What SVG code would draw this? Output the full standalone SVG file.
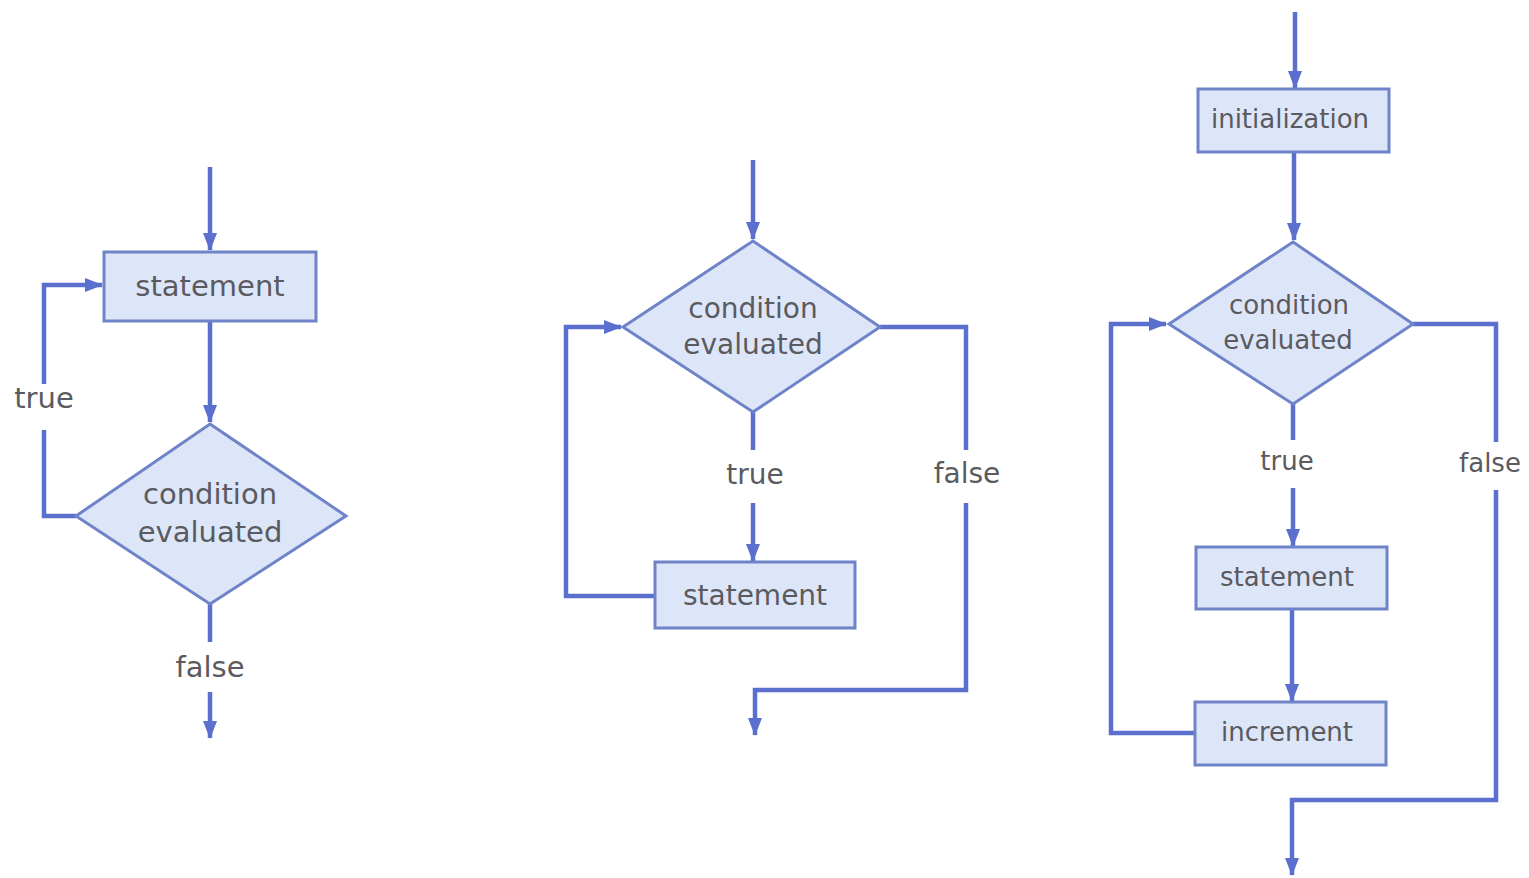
<svg xmlns="http://www.w3.org/2000/svg" width="1529" height="878" viewBox="0 0 1529 878">
<style>
.box{fill:#dde6f8;stroke:#6f84c8;stroke-width:3}
.ln{fill:none;stroke:#5b6fcf;stroke-width:4.5}
.t{font-family:"DejaVu Sans",sans-serif;fill:#5a5a60;text-anchor:middle}
.s1{font-size:29px}.s2{font-size:28px}.s3{font-size:26px}
</style>
<defs>
<marker id="ah" markerUnits="userSpaceOnUse" markerWidth="18" markerHeight="14" viewBox="0 0 18 14" refX="17" refY="7" orient="auto">
<path d="M0,0 L18,7 L0,14 Z" fill="#5b6fcf"/>
</marker>
</defs>
<rect width="1529" height="878" fill="#ffffff"/>
<g id="connectors">
<line class="ln" x1="210" y1="167" x2="210" y2="250" marker-end="url(#ah)"/>
<line class="ln" x1="210" y1="321" x2="210" y2="422" marker-end="url(#ah)"/>
<polyline class="ln" points="76,516 44,516 44,430"/>
<polyline class="ln" points="44,384 44,285 102,285" marker-end="url(#ah)"/>
<line class="ln" x1="210" y1="604" x2="210" y2="642"/>
<line class="ln" x1="210" y1="692" x2="210" y2="738" marker-end="url(#ah)"/>

<line class="ln" x1="753" y1="160" x2="753" y2="239" marker-end="url(#ah)"/>
<line class="ln" x1="753" y1="412" x2="753" y2="450"/>
<line class="ln" x1="753" y1="503" x2="753" y2="561" marker-end="url(#ah)"/>
<polyline class="ln" points="655,596 566,596 566,327 621,327" marker-end="url(#ah)"/>
<polyline class="ln" points="880,327 966,327 966,450"/>
<polyline class="ln" points="966,503 966,690 755,690 755,735" marker-end="url(#ah)"/>

<line class="ln" x1="1295" y1="12" x2="1295" y2="88" marker-end="url(#ah)"/>
<line class="ln" x1="1294" y1="152" x2="1294" y2="240" marker-end="url(#ah)"/>
<line class="ln" x1="1293" y1="404" x2="1293" y2="440"/>
<line class="ln" x1="1293" y1="488" x2="1293" y2="546" marker-end="url(#ah)"/>
<line class="ln" x1="1292" y1="609" x2="1292" y2="701" marker-end="url(#ah)"/>
<polyline class="ln" points="1195,733 1111,733 1111,324 1166,324" marker-end="url(#ah)"/>
<polyline class="ln" points="1413,324 1496,324 1496,442"/>
<polyline class="ln" points="1496,490 1496,800 1292,800 1292,875" marker-end="url(#ah)"/>
</g>

<g id="d1-statement">
<rect class="box" x="104" y="252" width="212" height="69"/>
<text class="t s1" x="210" y="296">statement</text>
</g>
<g id="d1-condition">
<polygon class="box" points="210,424 346,516 210,604 76,516"/>
<text class="t s1" x="210" y="504">condition</text>
<text class="t s1" x="210" y="542">evaluated</text>
</g>
<g id="d1-labels">
<text class="t s1" x="44" y="408">true</text>
<text class="t s1" x="210" y="677">false</text>
</g>

<g id="d2-condition">
<polygon class="box" points="753,241 880,327 753,412 623,327"/>
<text class="t s2" x="753" y="318">condition</text>
<text class="t s2" x="753" y="354">evaluated</text>
</g>
<g id="d2-statement">
<rect class="box" x="655" y="562" width="200" height="66"/>
<text class="t s2" x="755" y="605">statement</text>
</g>
<g id="d2-labels">
<text class="t s2" x="755" y="484">true</text>
<text class="t s2" x="967" y="483">false</text>
</g>

<g id="d3-init">
<rect class="box" x="1198" y="89" width="191" height="63"/>
<text class="t s3" x="1290" y="128">initialization</text>
</g>
<g id="d3-condition">
<polygon class="box" points="1293,242 1413,324 1293,404 1169,324"/>
<text class="t s3" x="1289" y="314">condition</text>
<text class="t s3" x="1288" y="349">evaluated</text>
</g>
<g id="d3-statement">
<rect class="box" x="1196" y="547" width="191" height="62"/>
<text class="t s3" x="1287" y="586">statement</text>
</g>
<g id="d3-increment">
<rect class="box" x="1195" y="702" width="191" height="63"/>
<text class="t s3" x="1287" y="741">increment</text>
</g>
<g id="d3-labels">
<text class="t s3" x="1287" y="470">true</text>
<text class="t s3" x="1490" y="472">false</text>
</g>
</svg>
